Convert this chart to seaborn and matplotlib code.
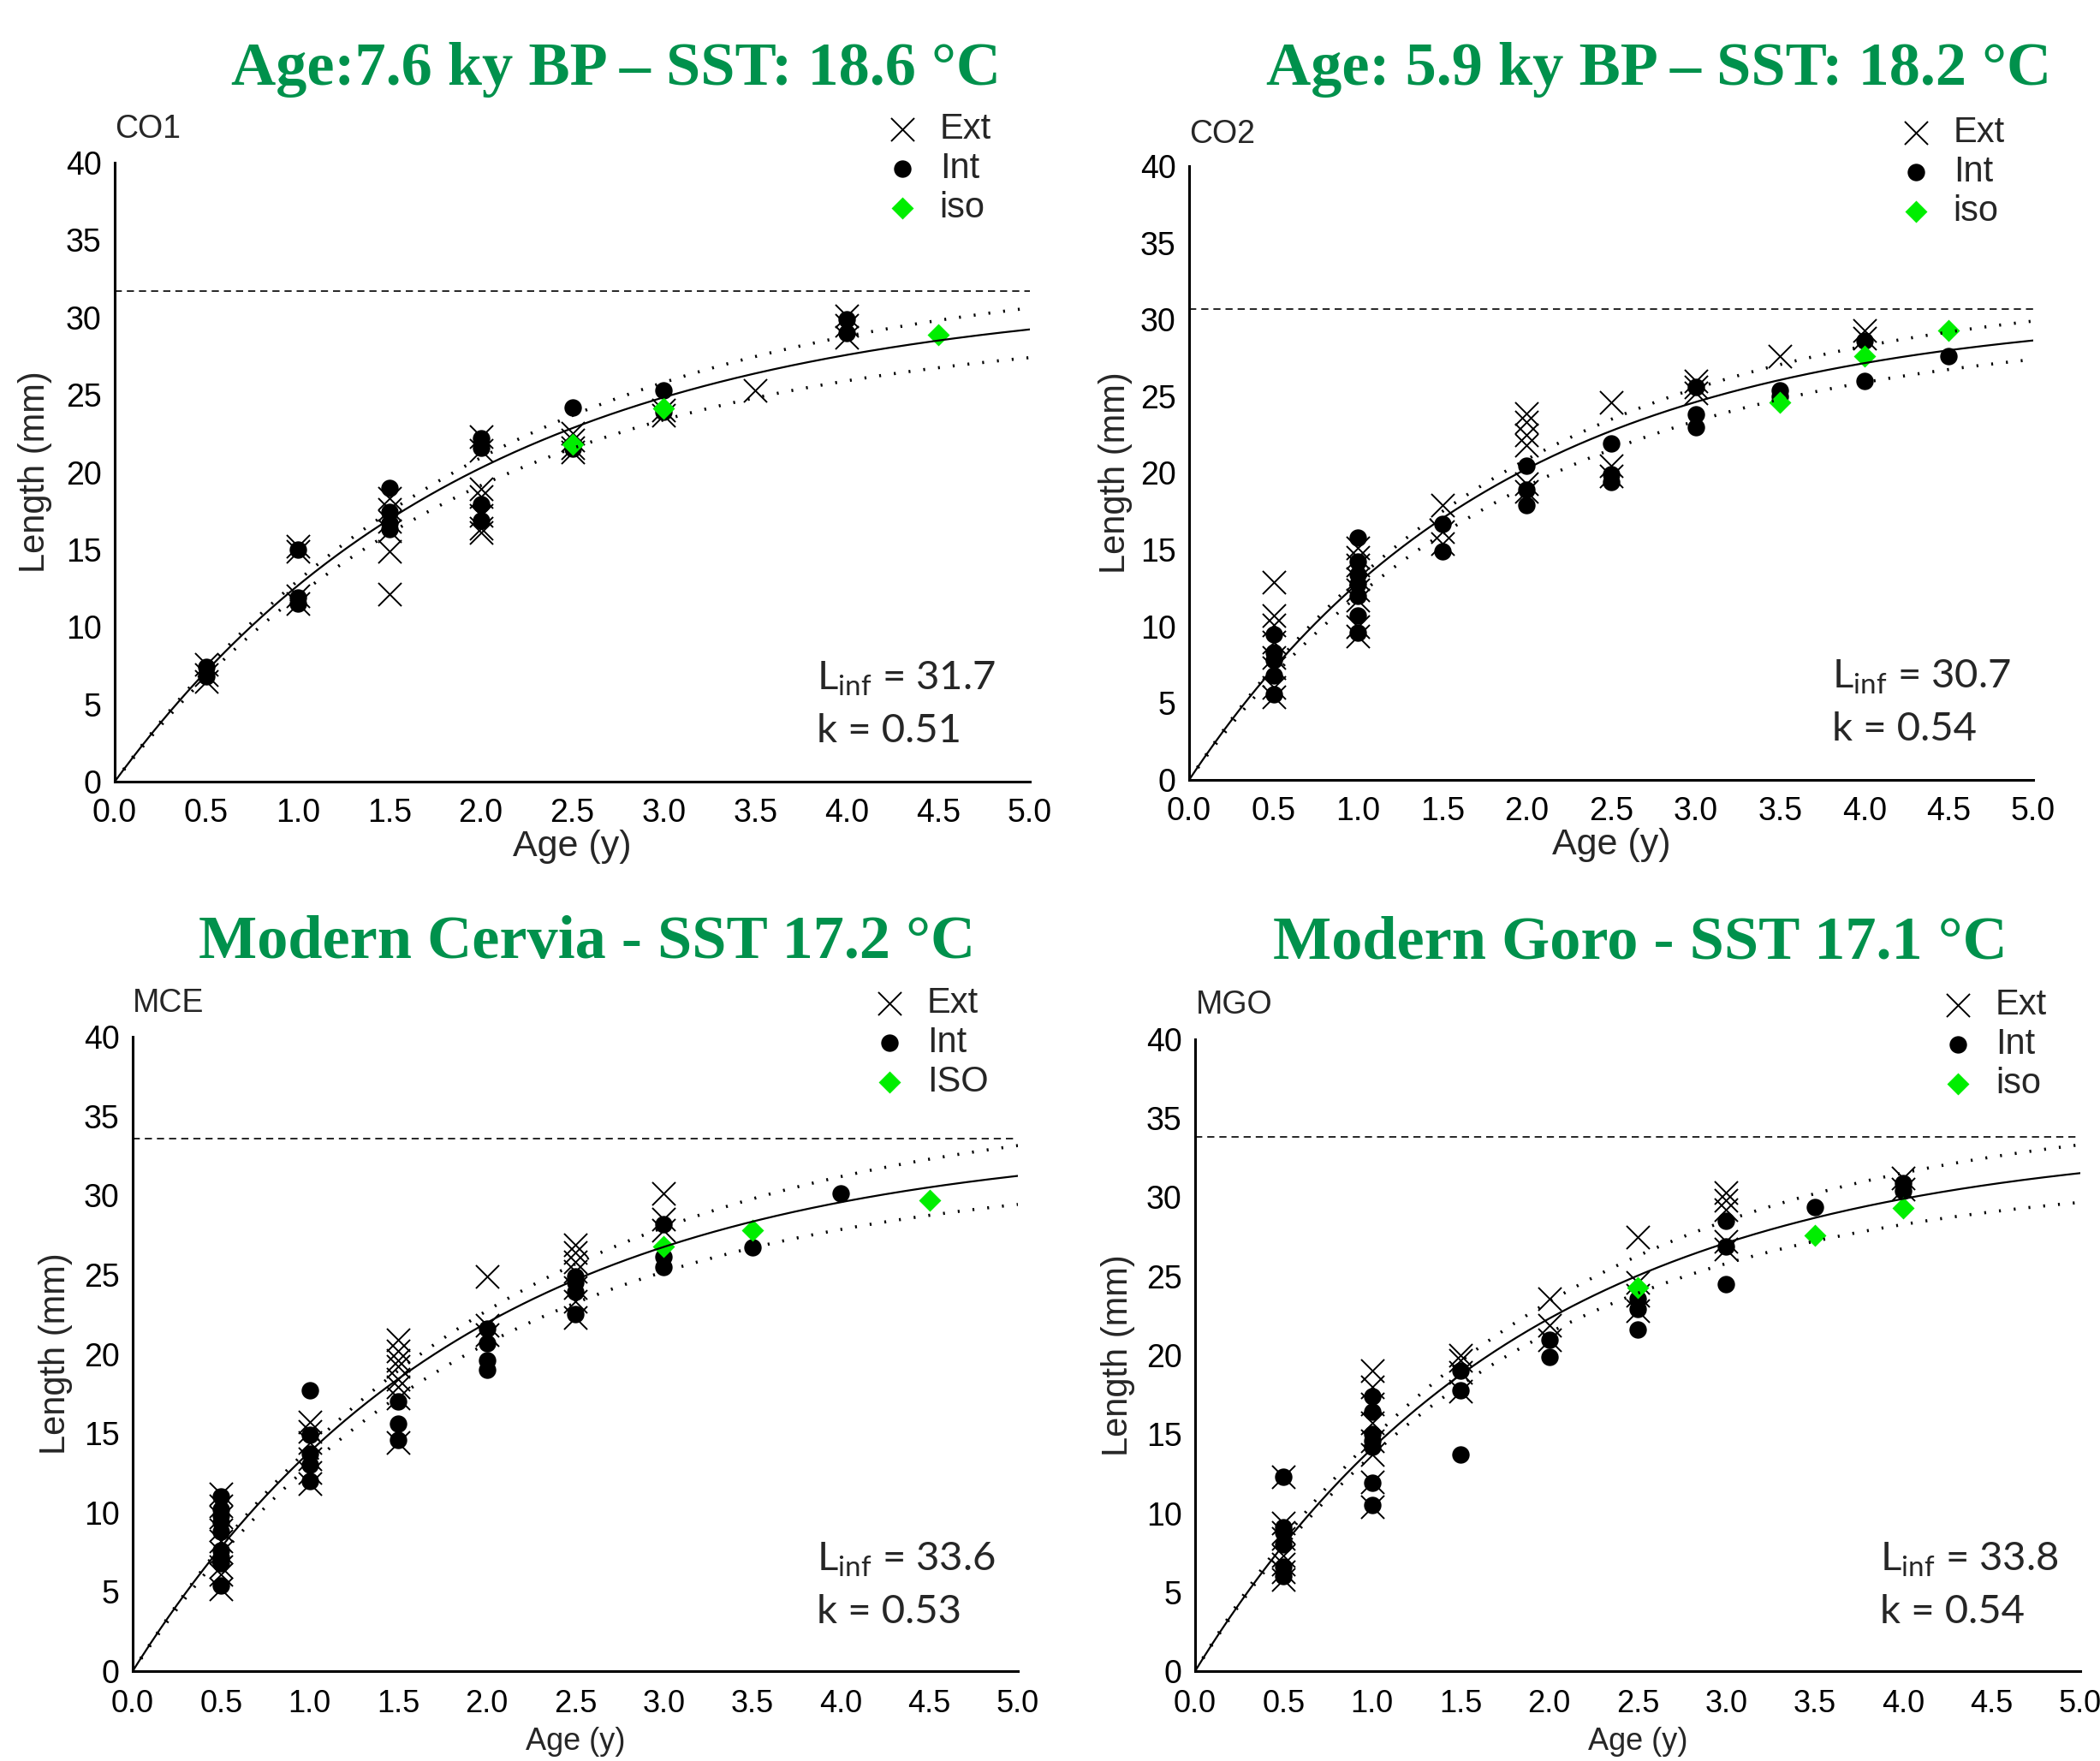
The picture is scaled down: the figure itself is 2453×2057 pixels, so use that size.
import numpy as np
import pandas as pd
import matplotlib
matplotlib.use("Agg")
import matplotlib.pyplot as plt
import seaborn as sns

# ---------------------------------------------------------------------------
# Shell length (mm) by age class (y): external (Ext) and internal (Int) growth
# lines, plus isotope-based ages (iso).
# ---------------------------------------------------------------------------

# CO1 - Age 7.6 ky BP
co1_ext = {0.5: [7.6, 6.9, 6.5], 1.0: [15.2, 14.9, 12.0, 11.5],
           1.5: [18.3, 17.6, 16.8, 16.2, 14.9, 12.1],
           2.0: [22.3, 21.4, 18.9, 18.4, 17.2, 16.4, 16.1],
           2.5: [22.5, 22.1, 21.6, 21.3], 3.0: [24.0, 23.7], 3.5: [25.3],
           4.0: [30.1, 29.5, 28.7]}
co1_int = {0.5: [7.4, 6.8], 1.0: [15.0, 11.9, 11.5],
           1.5: [19.0, 17.4, 16.7, 16.3], 2.0: [22.2, 21.6, 17.9, 16.9],
           2.5: [24.2, 21.5], 3.0: [25.3, 23.9], 4.0: [29.9, 29.0]}
co1_iso = {2.5: [21.8], 3.0: [24.1], 4.5: [28.9]}
co1_linf, co1_k = 31.7, 0.51
co1_upper, co1_lower = (33.5, 0.49), (29.6, 0.52)

# CO2 - Age 5.9 ky BP
co2_ext = {0.5: [12.9, 10.7, 10.1, 9.0, 8.0, 7.3, 6.0, 5.4],
           1.0: [15.1, 14.5, 14.0, 13.1, 12.4, 11.7, 10.0, 9.4],
           1.5: [17.9, 16.2, 15.4], 2.0: [23.9, 23.3, 22.5, 21.8, 19.3, 18.8],
           2.5: [24.6, 20.5, 19.8], 3.0: [26.0, 25.6, 25.2], 3.5: [27.6],
           4.0: [29.3, 28.8]}
co2_int = {0.5: [9.5, 8.3, 7.8, 6.8, 5.6],
           1.0: [15.8, 14.2, 13.4, 12.8, 12.0, 10.7, 9.6],
           1.5: [16.7, 14.9], 2.0: [20.5, 18.9, 17.9], 2.5: [21.9, 19.9, 19.4],
           3.0: [25.6, 23.8, 23.0], 3.5: [25.4, 25.0], 4.0: [28.6, 26.0],
           4.5: [27.6]}
co2_iso = {3.5: [24.6], 4.0: [27.6], 4.5: [29.3]}
co2_linf, co2_k = 30.7, 0.54
co2_upper, co2_lower = (32.3, 0.52), (29.6, 0.52)

# MCE - Modern Cervia
mce_ext = {0.5: [11.2, 10.4, 9.7, 8.9, 8.2, 7.5, 6.6, 6.1, 5.2],
           1.0: [15.7, 15.1, 14.4, 13.4, 12.5, 11.8],
           1.5: [20.9, 20.2, 19.6, 19.2, 18.4, 17.9, 17.2, 14.4],
           2.0: [24.9, 21.8, 21.2],
           2.5: [26.9, 26.4, 25.8, 25.2, 24.2, 23.3, 22.3],
           3.0: [30.1, 28.5, 27.8]}
mce_int = {0.5: [11.0, 10.2, 9.8, 9.4, 8.8, 7.6, 7.2, 6.8, 5.4],
           1.0: [17.7, 14.9, 13.7, 13.0, 12.0], 1.5: [17.0, 15.6, 14.6],
           2.0: [21.6, 20.7, 19.6, 19.0], 2.5: [24.9, 24.5, 23.9, 22.5],
           3.0: [28.2, 26.1, 25.5], 3.5: [26.7], 4.0: [30.1]}
mce_iso = {3.0: [26.8], 3.5: [27.8], 4.5: [29.7]}
mce_linf, mce_k = 33.6, 0.53
mce_upper, mce_lower = (36.2, 0.494), (31.7, 0.527)

# MGO - Modern Goro
mgo_ext = {0.5: [12.3, 9.4, 8.8, 8.4, 7.3, 6.8, 6.3, 5.8],
           1.0: [19.0, 18.0, 16.9, 15.7, 14.6, 13.7, 12.0, 10.4],
           1.5: [20.0, 19.7, 18.9, 17.7], 2.0: [23.6, 21.9, 21.0],
           2.5: [27.5, 24.6, 23.8, 22.8], 3.0: [30.3, 29.8, 29.2, 27.2, 26.7],
           4.0: [31.2, 30.5]}
mgo_int = {0.5: [12.3, 9.1, 8.8, 8.0, 6.6, 6.0],
           1.0: [17.4, 16.4, 15.0, 14.6, 14.2, 11.9, 10.5],
           1.5: [19.0, 17.8, 13.7], 2.0: [21.0, 19.9], 2.5: [23.6, 22.9, 21.6],
           3.0: [28.5, 26.9, 24.5], 3.5: [29.4], 4.0: [30.9, 30.4]}
mgo_iso = {2.5: [24.3], 3.5: [27.6], 4.0: [29.3]}
mgo_linf, mgo_k = 33.8, 0.54
mgo_upper, mgo_lower = (35.9, 0.527), (31.5, 0.57)

x_ticks = [0.0, 0.5, 1.0, 1.5, 2.0, 2.5, 3.0, 3.5, 4.0, 4.5, 5.0]
y_ticks = [0, 5, 10, 15, 20, 25, 30, 35, 40]

# ---------------------------------------------------------------------------
sns.set_style("white")
plt.rcParams["font.family"] = ["Liberation Sans", "DejaVu Sans"]
plt.rcParams["axes.unicode_minus"] = False

W, H = 2453, 2057
GREEN_TITLE = "#00914C"
ISO_GREEN = "#00EE00"

fig = plt.figure(figsize=(W / 100, H / 100), dpi=100)


def to_frame(groups):
    rows = [(age, length) for age, lengths in groups.items() for length in lengths]
    return pd.DataFrame(rows, columns=["age", "length"])


def vb(t, linf, k):
    """von Bertalanffy growth curve with t0 = 0."""
    return linf * (1.0 - np.exp(-k * t))


# top row has room under the axes; the bottom row sits tight against the edge
top_row = dict(xtick_fs=27, xtick_pad=14, xlabel_fs=31, xlabel_px=76)
bottom_row = dict(xtick_fs=26, xtick_pad=15, xlabel_fs=26, xlabel_px=None)

panels = [
    dict(tag="CO1", title="Age:7.6 ky BP – SST: 18.6 °C", ext=co1_ext,
         intl=co1_int, iso=co1_iso, iso_label="iso", linf=co1_linf, k=co1_k,
         upper=co1_upper, lower=co1_lower, box=(134, 1203, 190, 913),
         title_at=(720, 99), legend_at=(1054, 197), note_at=(954, 793),
         tag_at=(134, 151), row=top_row),
    dict(tag="CO2", title="Age: 5.9 ky BP – SST: 18.2 °C", ext=co2_ext,
         intl=co2_int, iso=co2_iso, iso_label="iso", linf=co2_linf, k=co2_k,
         upper=co2_upper, lower=co2_lower, box=(1389, 2375, 194, 911),
         title_at=(1938, 99), legend_at=(2238, 201), note_at=(2140, 791),
         tag_at=(1389, 157), row=top_row),
    dict(tag="MCE", title="Modern Cervia - SST 17.2 °C", ext=mce_ext,
         intl=mce_int, iso=mce_iso, iso_label="ISO", linf=mce_linf, k=mce_k,
         upper=mce_upper, lower=mce_lower, box=(155, 1189, 1211, 1952),
         title_at=(686, 1119), legend_at=(1039, 1218), note_at=(954, 1822),
         tag_at=(155, 1172), row=bottom_row),
    dict(tag="MGO", title="Modern Goro - SST 17.1 °C", ext=mgo_ext,
         intl=mgo_int, iso=mgo_iso, iso_label="iso", linf=mgo_linf, k=mgo_k,
         upper=mgo_upper, lower=mgo_lower, box=(1396, 2430, 1214, 1952),
         title_at=(1916, 1119), legend_at=(2287, 1220), note_at=(2196, 1822),
         tag_at=(1397, 1174), row=bottom_row),
]

t = np.linspace(0.0, 5.0, 400)
LEG_FS = 30
LEG_PX = LEG_FS * 100 / 72
BOTTOM_XLABEL_Y = 2035  # pixel row of the x-label centre for the lower panels

for p in panels:
    left, right, top, bottom = p["box"]
    row = p["row"]
    ax = fig.add_axes([left / W, 1 - bottom / H, (right - left) / W, (bottom - top) / H])

    sns.scatterplot(data=to_frame(p["ext"]), x="age", y="length", marker="x",
                    color="black", s=380, linewidth=1.4, label="Ext", ax=ax,
                    zorder=2)
    sns.scatterplot(data=to_frame(p["intl"]), x="age", y="length", marker="o",
                    color="black", edgecolor="black", s=215, linewidth=0,
                    label="Int", ax=ax, zorder=3)
    sns.scatterplot(data=to_frame(p["iso"]), x="age", y="length", marker="D",
                    color=ISO_GREEN, edgecolor=ISO_GREEN, s=175, linewidth=0,
                    label=p["iso_label"], ax=ax, zorder=4)

    # fitted growth curve and its confidence envelope
    sns.lineplot(x=t, y=vb(t, p["linf"], p["k"]), color="black", linewidth=1.6,
                 ax=ax, zorder=5)
    for lim in (p["upper"], p["lower"]):
        sns.lineplot(x=t, y=vb(t, *lim), color="black", linewidth=2.6,
                     linestyle=(0, (0.6, 4.2)), ax=ax, zorder=5)
    ax.axhline(p["linf"], color="black", linewidth=1.2, linestyle=(0, (5, 3.5)),
               zorder=1)

    ax.set_xlim(0, 5)
    ax.set_ylim(0, 40)
    ax.set_xticks(x_ticks, [f"{v:.1f}" for v in x_ticks])
    ax.set_yticks(y_ticks, [str(v) for v in y_ticks])
    ax.tick_params(axis="both", length=0, colors="black")
    ax.tick_params(axis="x", pad=row["xtick_pad"], labelsize=row["xtick_fs"])
    ax.tick_params(axis="y", pad=11, labelsize=27)
    for side in ("top", "right"):
        ax.spines[side].set_visible(False)
    for side in ("left", "bottom"):
        ax.spines[side].set_linewidth(2.2)
        ax.spines[side].set_color("black")

    ax.set_xlabel("Age (y)", fontsize=row["xlabel_fs"], va="center")
    label_px = row["xlabel_px"] if row["xlabel_px"] else BOTTOM_XLABEL_Y - bottom
    ax.xaxis.set_label_coords(0.5, -label_px / (bottom - top))
    ax.set_ylabel("Length (mm)", fontsize=30, va="center")
    ax.yaxis.set_label_coords(-0.087, 0.5)

    mx, my = p["legend_at"]
    leg_left = mx - LEG_PX * 0.5
    ax.legend(loc="center left", bbox_to_anchor=(leg_left / W, 1 - my / H),
              bbox_transform=fig.transFigure, frameon=False, fontsize=LEG_FS,
              handlelength=1.0, handletextpad=0.55, labelspacing=0.14,
              borderpad=0, borderaxespad=0)

    tx, ty = p["tag_at"]
    fig.text(tx / W, 1 - ty / H, p["tag"], fontsize=27, ha="left", va="center")

    nx, ny = p["note_at"]
    fig.text(nx / W, 1 - ny / H, f"L$_{{\\mathregular{{inf}}}}$ = {p['linf']}",
             fontsize=34, family="Lato", ha="left", va="center")
    fig.text(nx / W, 1 - (ny + 61) / H, f"k = {p['k']:.2f}",
             fontsize=34, family="Lato", ha="left", va="center")

    hx, hy = p["title_at"]
    fig.text(hx / W, 1 - hy / H, p["title"], fontsize=52, family="Liberation Serif",
             weight="bold", color=GREEN_TITLE, ha="center", va="baseline")

fig.savefig("out.png", dpi=100, facecolor="white")
